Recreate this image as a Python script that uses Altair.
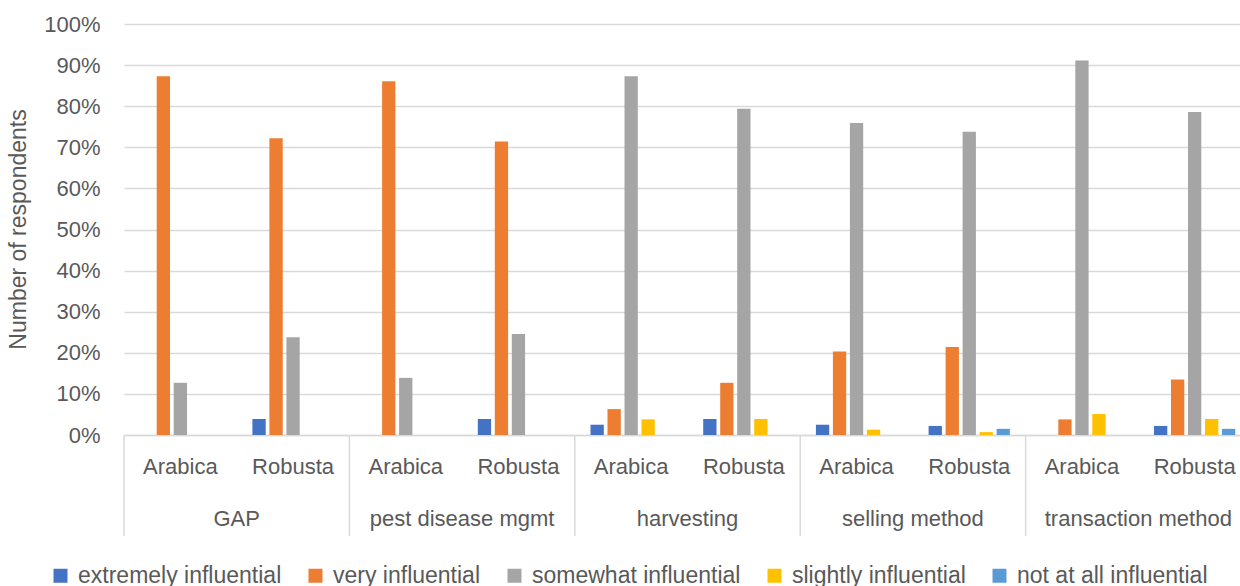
import altair as alt
import pandas as pd

# Survey shares (% of respondents) per topic and coffee variety
categories = ["GAP", "pest disease mgmt", "harvesting", "selling method", "transaction method"]
varieties = ["Arabica", "Robusta"]
levels = [
    "extremely influential",
    "very influential",
    "somewhat influential",
    "slightly influential",
    "not at all influential",
]
colors = ["#4472C4", "#ED7D31", "#A5A5A5", "#FFC000", "#5B9BD5"]

# one value per (category, variety) pair, in category order, Arabica then Robusta
extremely = [0.0, 3.9, 0.0, 3.9, 2.5, 3.9, 2.5, 2.2, 0.0, 2.2]
very = [87.3, 72.2, 86.1, 71.4, 6.3, 12.7, 20.3, 21.4, 3.8, 13.5]
somewhat = [12.7, 23.8, 13.9, 24.6, 87.3, 79.4, 75.9, 73.8, 91.1, 78.6]
slightly = [0.0, 0.0, 0.0, 0.0, 3.8, 3.9, 1.3, 0.7, 5.1, 3.9]
not_at_all = [0.0, 0.0, 0.0, 0.0, 0.0, 0.0, 0.0, 1.5, 0.0, 1.5]

series = [extremely, very, somewhat, slightly, not_at_all]
y_ticks = [0, 10, 20, 30, 40, 50, 60, 70, 80, 90, 100]

keys = [f"{c}|{v}" for c in categories for v in varieties]

rows = []
for level, vals in zip(levels, series):
    for key, val in zip(keys, vals):
        rows.append({"key": key, "level": level, "value": val})
bars_df = pd.DataFrame(rows)

cat_df = pd.DataFrame({"key": [f"{c}|{varieties[0]}" for c in categories], "category": categories})
sep_df = pd.DataFrame({"key": [f"{c}|{varieties[0]}" for c in categories]})
end_df = pd.DataFrame({"key": [keys[-1]]})

TEXT = "#595959"
GRID = "#D9D9D9"
FONT = "Liberation Sans"

x_scale = alt.Scale(domain=keys, paddingInner=0, paddingOuter=0)

bars = alt.Chart(bars_df).mark_bar().encode(
    x=alt.X(
        "key:N",
        scale=x_scale,
        axis=alt.Axis(
            title=None,
            labelExpr="split(datum.label, '|')[1]",
            labelAngle=0,
            ticks=False,
            labelPadding=21,
            labelFontSize=22,
            labelColor=TEXT,
            labelFont=FONT,
            domainColor=GRID,
            domainWidth=1.5,
            grid=False,
        ),
    ),
    xOffset=alt.XOffset(
        "level:N",
        sort=levels,
        scale=alt.Scale(domain=levels, paddingInner=0.218, paddingOuter=0.924),
    ),
    y=alt.Y(
        "value:Q",
        scale=alt.Scale(domain=[0, 100], nice=False),
        axis=alt.Axis(
            title="Number of respondents",
            values=y_ticks,
            labelExpr="datum.value + '%'",
            ticks=False,
            domain=False,
            labelPadding=24,
            labelFontSize=22,
            labelColor=TEXT,
            labelFont=FONT,
            titleFontSize=23,
            titleFontWeight="normal",
            titleColor=TEXT,
            titleFont=FONT,
            titleX=-106,
            titleY=205,
            titleAngle=270,
            titleAlign="center",
            titleBaseline="middle",
            gridColor=GRID,
            gridWidth=1.5,
        ),
    ),
    color=alt.Color(
        "level:N",
        sort=levels,
        scale=alt.Scale(domain=levels, range=colors),
        legend=alt.Legend(
            title=None,
            orient="none",
            direction="horizontal",
            legendX=-75,
            legendY=540,
            columns=5,
            symbolType="square",
            symbolSize=196,
            symbolStrokeWidth=0,
            symbolOpacity=1,
            labelFontSize=23,
            labelColor=TEXT,
            labelFont=FONT,
            labelOffset=6,
            labelLimit=0,
            columnPadding=22,
        ),
    ),
)

# category separators below the axis
separators = alt.Chart(sep_df).mark_rule(color=GRID, strokeWidth=1.5).encode(
    x=alt.X("key:N", scale=x_scale, bandPosition=0),
    y=alt.value(411),
    y2=alt.value(512),
)
end_sep = alt.Chart(end_df).mark_rule(color=GRID, strokeWidth=1.5).encode(
    x=alt.X("key:N", scale=x_scale, bandPosition=1),
    y=alt.value(411),
    y2=alt.value(512),
)

# outer category labels
cat_labels = alt.Chart(cat_df).mark_text(
    fontSize=22, color=TEXT, font=FONT, baseline="middle", align="center"
).encode(
    x=alt.X("key:N", scale=x_scale, bandPosition=1),
    y=alt.value(495),
    text="category:N",
)

chart = alt.layer(bars, separators, end_sep, cat_labels).properties(
    width=1127,
    height=411,
    autosize=alt.AutoSizeParams(type="none"),
    padding={"left": 124, "top": 24, "right": -11, "bottom": 151},
).configure_view(stroke=None).configure_axis(
    labelFont=FONT, titleFont=FONT
)

chart.save("out.html", embed_options={"renderer": "svg", "actions": False})
